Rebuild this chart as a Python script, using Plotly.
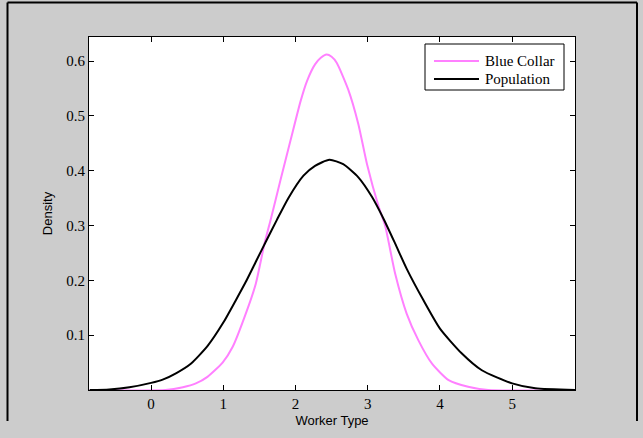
import plotly.graph_objects as go

# Density curves of worker type
pop_x = [-0.85, -0.58, -0.30, 0.00, 0.16, 0.35, 0.55, 0.78, 1.00, 1.17, 1.31, 1.45,
         1.59, 1.74, 1.90, 2.11, 2.27, 2.47, 2.66, 2.87, 3.06, 3.22, 3.38, 3.54,
         3.77, 4.00, 4.30, 4.58, 5.00, 5.32, 5.87]
pop_y = [0.000, 0.001, 0.005, 0.013, 0.019, 0.031, 0.048, 0.080, 0.123, 0.163, 0.197, 0.234,
         0.271, 0.310, 0.350, 0.391, 0.409, 0.420, 0.412, 0.388, 0.352, 0.312, 0.267, 0.221,
         0.164, 0.112, 0.067, 0.036, 0.012, 0.003, 0.000]

blue_x = [-0.85, 0.20, 0.44, 0.62, 0.78, 0.99, 1.13, 1.31, 1.45, 1.57, 1.66, 1.79,
          1.93, 2.07, 2.16, 2.27, 2.35, 2.43, 2.50, 2.57, 2.73, 2.87, 2.99, 3.15, 3.24,
          3.38, 3.54, 3.70, 3.89, 4.12, 4.39, 4.67, 5.87]
blue_y = [0.000, 0.000, 0.005, 0.012, 0.024, 0.050, 0.079, 0.139, 0.194, 0.267, 0.313, 0.382,
          0.455, 0.527, 0.564, 0.594, 0.606, 0.612, 0.608, 0.597, 0.548, 0.485, 0.412, 0.335,
          0.300, 0.212, 0.139, 0.091, 0.048, 0.018, 0.006, 0.000, 0.000]

series_names = ["Blue Collar", "Population"]
series_colors = ["#FF80FF", "#000000"]

x_ticks = [0, 1, 2, 3, 4, 5]
y_ticks = [0.1, 0.2, 0.3, 0.4, 0.5, 0.6]
y_tick_labels = ["0.1", "0.2", "0.3", "0.4", "0.5", "0.6"]

W, H = 643, 438
L, R, T, B = 89, 575, 37, 390   # plot-area edges in pixels

fig = go.Figure()
for name, color, xs, ys in zip(series_names, series_colors, [blue_x, pop_x], [blue_y, pop_y]):
    fig.add_trace(go.Scatter(x=xs, y=ys, mode="lines", name=name, showlegend=False,
                             line=dict(color=color, width=2, shape="spline", smoothing=0.6)))

serif = "Liberation Serif, Times New Roman, serif"
sans = "Liberation Sans, Arial, sans-serif"

axis_common = dict(showline=True, linecolor="black", linewidth=1, mirror="ticks",
                   ticks="inside", ticklen=5, tickcolor="black", tickwidth=1,
                   showgrid=False, zeroline=False,
                   tickfont=dict(family=serif, size=15, color="black"))

fig.update_xaxes(range=[-0.86, 5.87], tickvals=x_ticks,
                 title=dict(text="Worker Type", font=dict(family=sans, size=13, color="black"),
                            standoff=4),
                 **axis_common)
fig.update_yaxes(range=[0, 0.644], tickvals=y_ticks, ticktext=y_tick_labels,
                 title=dict(text="Density", font=dict(family=sans, size=13, color="black"),
                            standoff=10),
                 **axis_common)


def px_to_paper(px, py):
    return (px - L) / (R - L), (B - py) / (B - T)


# figure frame around the gray canvas
x0, y0 = px_to_paper(7.5, 421)
x1, y1 = px_to_paper(637, 2.5)
frame = dict(type="line", xref="paper", yref="paper", line=dict(color="black", width=2))
fig.add_shape(x0=x0, y0=y0, x1=x0, y1=y1, **frame)
fig.add_shape(x0=x1, y0=y0, x1=x1, y1=y1, **frame)
fig.add_shape(x0=x0, y0=y1, x1=x1, y1=y1, **frame)

# boxed legend in the upper-right corner of the axes
bx0, by0 = px_to_paper(425, 90)
bx1, by1 = px_to_paper(564, 44)
fig.add_shape(type="rect", xref="paper", yref="paper", x0=bx0, y0=by0, x1=bx1, y1=by1,
              line=dict(color="black", width=1), fillcolor="white", layer="above")
for i, (name, color) in enumerate(zip(series_names, series_colors)):
    row_y = 61 + 18 * i
    sx0, sy = px_to_paper(434, row_y)
    sx1, _ = px_to_paper(479, row_y)
    tx, _ = px_to_paper(483, row_y)
    fig.add_shape(type="line", xref="paper", yref="paper", x0=sx0, y0=sy, x1=sx1, y1=sy,
                  line=dict(color=color, width=2), layer="above")
    fig.add_annotation(xref="paper", yref="paper", x=tx, y=sy, text=name, showarrow=False,
                       xanchor="left", yanchor="middle",
                       font=dict(family=serif, size=15, color="black"))

fig.update_layout(
    width=W, height=H,
    margin=dict(l=L, r=W - R, t=T, b=H - B, pad=0),
    paper_bgcolor="#CCCCCC", plot_bgcolor="white",
)

fig.write_html("out.html")
